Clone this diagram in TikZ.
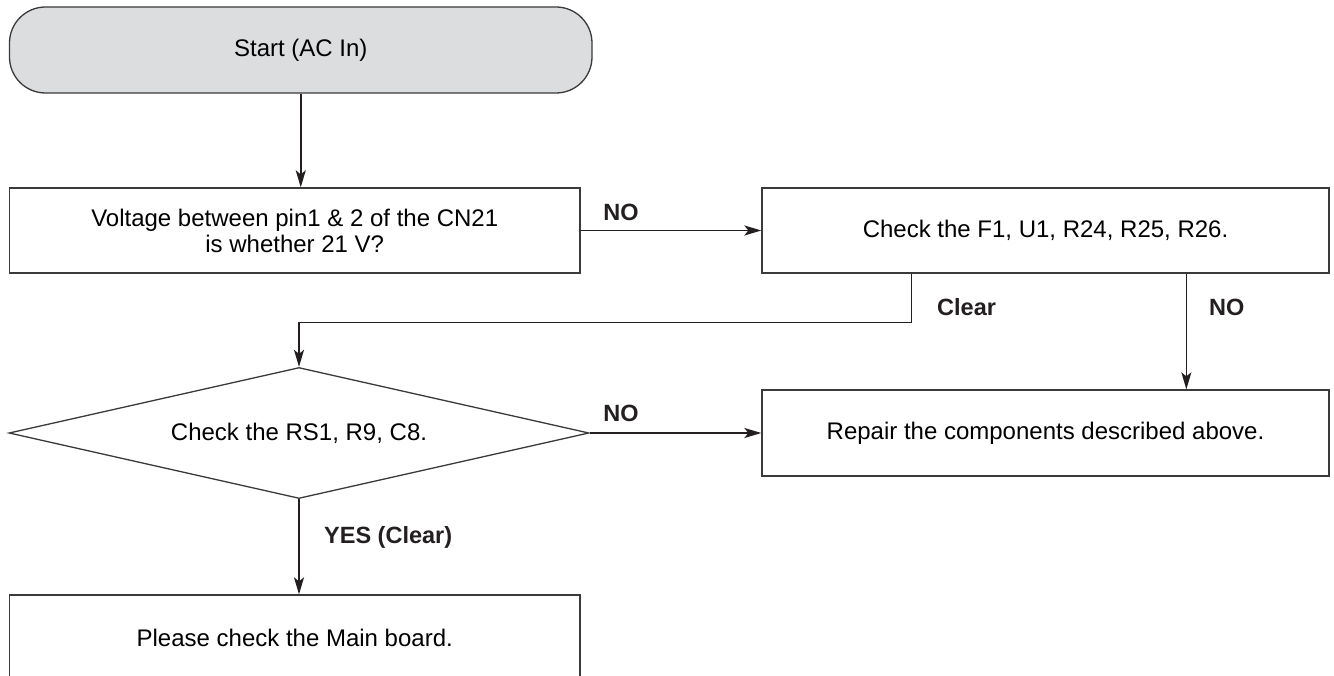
\documentclass[tikz,border=0pt]{standalone}
\usepackage{fontspec}
\setmainfont{Liberation Sans}
\usetikzlibrary{shapes.geometric,arrows.meta}
\definecolor{ink}{HTML}{231F20}
\definecolor{edge}{HTML}{3A3A3A}
\definecolor{startgray}{HTML}{DCDDDF}
\begin{document}
\begin{tikzpicture}[x=1pt,y=-1pt,
  font=\fontsize{24}{26}\selectfont,
  startbox/.style={draw=edge,line width=1.3pt,fill=startgray,rounded corners=36pt,
    minimum width=582.5pt,minimum height=86pt,inner sep=0pt},
  lbox/.style={draw=edge,line width=1.3pt,minimum width=570.5pt,minimum height=85pt,
    inner sep=0pt,align=center},
  rbox/.style={draw=edge,line width=1.3pt,minimum width=567pt,minimum height=85pt,
    inner sep=0pt,align=center},
  dia/.style={draw=edge,line width=1.3pt,diamond,aspect=4.4,minimum width=580pt,
    minimum height=131pt,inner sep=0pt},
  arr/.style={draw=ink,line width=1.6pt,-{Stealth[length=17pt,width=10pt,inset=4pt]}},
  lbl/.style={font=\bfseries\fontsize{23.5}{26}\selectfont,inner sep=0pt,text=ink}]
\path[fill=white] (0,0) rectangle (1334,676);
\useasboundingbox (0,0) rectangle (1334,676);
\clip (0,0) rectangle (1334,676);

\node[startbox] (start) at (300.75,50) {Start (AC In)};
\node[lbox] (q1) at (294.75,230.5) {Voltage between pin1 \& 2 of the CN21\\ is whether 21 V?};
\node[rbox] (c1) at (1045.5,230.5) {Check the F1, U1, R24, R25, R26.};
\node[rbox,minimum height=86pt] (rep) at (1045.5,433) {Repair the components described above.};
\node[dia] (q2) at (299,433) {Check the RS1, R9, C8.};
\node[lbox,minimum height=86pt] (main) at (294.75,638) {Please check the Main board.};

\draw[arr] (start.south) -- (start.south |- q1.north);
\draw[arr] (q1.east) -- (c1.west);
\draw[arr] ([xshift=150pt]c1.south west) -- ++(0,49) -| (q2.north);
\draw[arr] ([xshift=425pt]c1.south west) -- ([xshift=425pt]rep.north west);
\draw[arr] (q2.east) -- (rep.west);
\draw[arr] (q2.south) -- (q2.south |- main.north);

\node[lbl] (noA) at (621,212) {NO};
\node[lbl,anchor=west] (clr) at (937,307) {Clear};
\node[lbl,anchor=west] (noB) at (1209,307) {NO};
\node[lbl] (noC) at (621,413) {NO};
\node[lbl,anchor=west] (yes) at (324,537) {YES (Clear)};
\end{tikzpicture}
\end{document}
